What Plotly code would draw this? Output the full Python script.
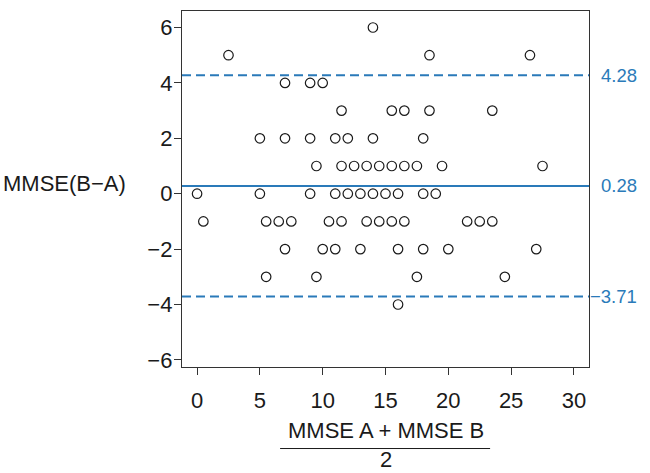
import plotly.graph_objects as go

# Bland-Altman data: mean of the two MMSE scores (x) and difference B-A (y)
mean_ab = [14,
           2.5, 18.5, 26.5,
           7, 9, 10,
           11.5, 15.5, 16.5, 18.5, 23.5,
           5, 7, 9, 11, 12, 14, 18,
           9.5, 11.5, 12.5, 13.5, 14.5, 15.5, 16.5, 17.5, 19.5, 27.5,
           0, 5, 9, 11, 12, 13, 14, 15, 16, 18, 19,
           0.5, 5.5, 6.5, 7.5, 10.5, 11.5, 13.5, 14.5, 15.5, 16.5, 21.5, 22.5, 23.5,
           7, 10, 11, 13, 16, 18, 20, 27,
           5.5, 9.5, 17.5, 24.5,
           16]
diff_ba = [6,
           5, 5, 5,
           4, 4, 4,
           3, 3, 3, 3, 3,
           2, 2, 2, 2, 2, 2, 2,
           1, 1, 1, 1, 1, 1, 1, 1, 1, 1,
           0, 0, 0, 0, 0, 0, 0, 0, 0, 0, 0,
           -1, -1, -1, -1, -1, -1, -1, -1, -1, -1, -1, -1, -1,
           -2, -2, -2, -2, -2, -2, -2, -2,
           -3, -3, -3, -3,
           -4]

bias = 0.28
upper_loa = 4.28
lower_loa = -3.71
ref_values = [upper_loa, bias, lower_loa]
ref_labels = ["4.28", "0.28", "\u22123.71"]
ref_dash = ["9px,5px", "solid", "9px,5px"]

x_ticks = [0, 5, 10, 15, 20, 25, 30]
y_ticks = [-6, -4, -2, 0, 2, 4, 6]

BLUE = "#2a7ab9"
INK = "#1a1a1a"
FONT = "Liberation Sans, Arial, Helvetica, sans-serif"
FS = 22

fig = go.Figure()
fig.add_trace(go.Scatter(
    x=mean_ab, y=diff_ba, mode="markers",
    marker=dict(symbol="circle-open", size=9.5, color=INK,
                line=dict(width=1.2, color=INK)),
    showlegend=False, hoverinfo="x+y"))

shapes = []
for v, d in zip(ref_values, ref_dash):
    shapes.append(dict(type="line", xref="paper", x0=0, x1=1, yref="y", y0=v, y1=v,
                       line=dict(color=BLUE, width=2, dash=d)))
# fraction bar of the x-axis title
shapes.append(dict(type="line", xref="paper", x0=0.241, x1=0.757, yref="paper", y0=-0.229, y1=-0.229,
                   line=dict(color=INK, width=1)))

annotations = []
for v, t in zip(ref_values, ref_labels):
    annotations.append(dict(x=1, xref="paper", y=v, yref="y", text=t, showarrow=False,
                            xanchor="right", xshift=50, font=dict(size=18.5, color=BLUE, family=FONT)))
annotations.append(dict(x=0, xref="paper", y=0.515, yref="paper", text="MMSE(B\u2212A)", showarrow=False,
                        xanchor="right", xshift=-54, font=dict(size=FS, color=INK, family=FONT)))
annotations.append(dict(x=0.5, xref="paper", y=-0.178, yref="paper", text="MMSE A + MMSE B", showarrow=False,
                        xanchor="center", yanchor="middle", font=dict(size=FS, color=INK, family=FONT)))
annotations.append(dict(x=0.5, xref="paper", y=-0.259, yref="paper", text="2", showarrow=False,
                        xanchor="center", yanchor="middle", borderpad=0,
                        font=dict(size=FS, color=INK, family=FONT)))

axis_common = dict(showline=True, mirror=True, linecolor="#333333", linewidth=1.3,
                   ticks="outside", ticklen=7, tickwidth=1.3, tickcolor="#333333",
                   showgrid=False, zeroline=False,
                   tickfont=dict(size=FS, color=INK, family=FONT))

fig.update_layout(
    width=650, height=473,
    margin=dict(l=182, r=61, t=11, b=106),
    paper_bgcolor="white", plot_bgcolor="white",
    xaxis=dict(range=[-1.2, 31.2], tickvals=x_ticks, ticklabelstandoff=6, **axis_common),
    yaxis=dict(range=[-6.256, 6.596], tickvals=y_ticks, ticklabelstandoff=-3, **axis_common),
    shapes=shapes, annotations=annotations,
    font=dict(family=FONT),
)

fig.write_html("out.html", config={"displayModeBar": False},
               post_script="document.body.style.margin='0';document.body.style.overflow='hidden';")
